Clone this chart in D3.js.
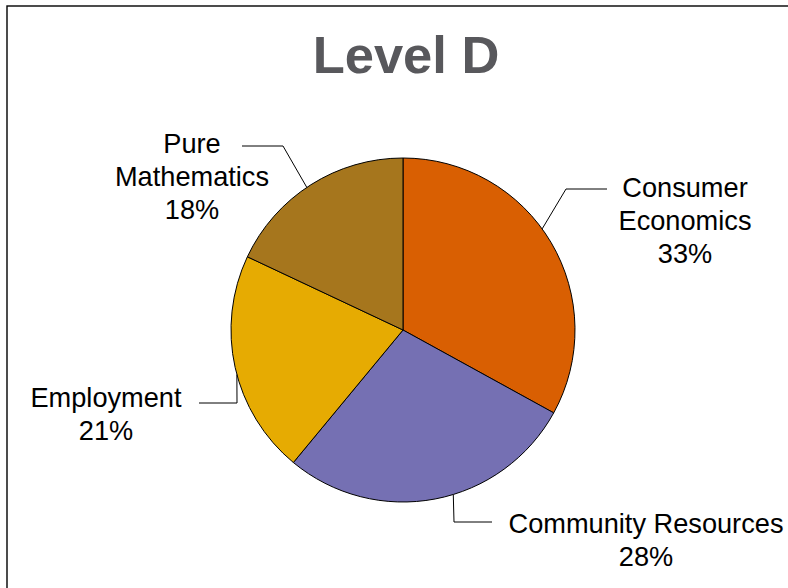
<!DOCTYPE html>
<html>
<head>
<meta charset="utf-8">
<script src="https://cdn.jsdelivr.net/npm/d3@7"></script>
<style>
	body { margin: 0; background: #fff; }
	svg { display: block; font-family: Arial, "Liberation Sans", sans-serif; }
</style>
</head>
<body>
<div id="chart"></div>
<script>
// data
var title      = 'Level D';
var categories = ['Consumer Economics', 'Community Resources', 'Employment', 'Pure Mathematics'];
var shares     = [33, 28, 21, 18];
var labelLines = [['Consumer', 'Economics'], ['Community Resources'], ['Employment'], ['Pure', 'Mathematics']];

var colors = d3.scaleOrdinal()
	.domain(categories)
	.range(['#d95f02', '#7570b3', '#e6ab02', '#a6761d']);

var width  = 788,
	height = 588,
	cx = 403, cy = 330, radius = 172;

// callout layout per slice: where the leader meets the rim (deg from 12 o'clock),
// its elbow, its end and the label block (centre x, first baseline)
var callouts = {
	'Consumer Economics':  {touch: 54,  elbow: [566, 189], end: [607, 189], lx: 685, ly: 197},
	'Community Resources': {touch: 163, elbow: [454, 522], end: [492, 522], lx: 646, ly: 533},
	'Employment':          {touch: 255, elbow: [237, 403], end: [199, 403], lx: 106, ly: 407},
	'Pure Mathematics':    {touch: 326, elbow: [283, 146], end: [242, 146], lx: 192, ly: 153}
};
var lineGap = 33;

var svg = d3.select('#chart').append('svg')
	.attr('width', width)
	.attr('height', height);

// frame
svg.append('rect')
	.attr('x', 7).attr('y', 6)
	.attr('width', width).attr('height', height)
	.attr('fill', 'none')
	.attr('stroke', '#000')
	.attr('stroke-width', 1.4);

svg.append('text')
	.attr('x', 406)
	.attr('y', 73)
	.attr('text-anchor', 'middle')
	.attr('font-size', 52.5)
	.attr('font-weight', 'bold')
	.attr('fill', '#58585c')
	.text(title);

var pie = d3.pie().sort(null).value(function(d) { return d.value; });
var arc = d3.arc().innerRadius(0).outerRadius(radius);

var rows = categories.map(function(c, i) { return {name: c, value: shares[i], lines: labelLines[i]}; });

var g = svg.append('g').attr('transform', 'translate(' + cx + ',' + cy + ')');

g.selectAll('path')
	.data(pie(rows))
	.enter().append('path')
	.attr('d', arc)
	.attr('fill', function(d) { return colors(d.data.name); })
	.attr('stroke', '#000')
	.attr('stroke-width', 1);

// leader lines
var lines = svg.append('g').attr('class', 'leaders');
rows.forEach(function(r) {
	var c = callouts[r.name];
	var a = c.touch * Math.PI / 180;
	var p = [cx + radius * Math.sin(a), cy - radius * Math.cos(a)];
	lines.append('polyline')
		.attr('points', [p, c.elbow, c.end].map(function(q) { return q.join(','); }).join(' '))
		.attr('fill', 'none')
		.attr('stroke', '#000')
		.attr('stroke-width', 1);
});

// labels
var labels = svg.append('g').attr('class', 'labels');
rows.forEach(function(r) {
	var c = callouts[r.name];
	var t = labels.append('text')
		.attr('text-anchor', 'middle')
		.attr('font-size', 27.2)
		.attr('fill', '#000');
	r.lines.concat([r.value + '%']).forEach(function(s, i) {
		t.append('tspan')
			.attr('x', c.lx)
			.attr('y', c.ly + i * lineGap)
			.text(s);
	});
});
</script>
</body>
</html>
